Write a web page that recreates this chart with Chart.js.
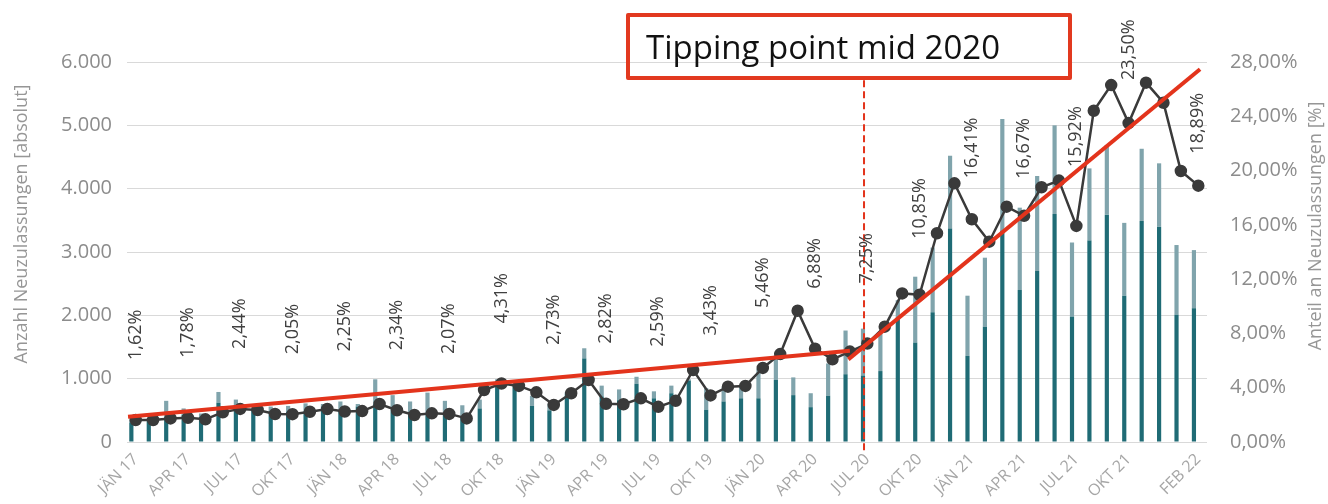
<!DOCTYPE html>
<html><head><meta charset="utf-8">
<script src="https://cdn.jsdelivr.net/npm/chart.js@4.4.1/dist/chart.umd.min.js"></script>
<style>
html,body{margin:0;padding:0;background:#fff;}
#wrap{position:relative;width:1328px;height:504px;}
#box{position:absolute;left:626px;top:13px;width:446px;height:67px;box-sizing:border-box;border:4px solid #e2391f;border-radius:2px;display:flex;align-items:center;padding-left:16px;font-family:"Open Sans";font-size:33px;color:#111;white-space:nowrap;}
</style></head><body>
<div id="wrap"><canvas id="c" width="1328" height="504"></canvas><div id="box">Tipping point mid 2020</div></div>
<script>
const months = ['JÄN 17','FEB 17','MÄR 17','APR 17','MAI 17','JUN 17','JUL 17','AUG 17','SEP 17','OKT 17','NOV 17','DEZ 17',
'JÄN 18','FEB 18','MÄR 18','APR 18','MAI 18','JUN 18','JUL 18','AUG 18','SEP 18','OKT 18','NOV 18','DEZ 18',
'JÄN 19','FEB 19','MÄR 19','APR 19','MAI 19','JUN 19','JUL 19','AUG 19','SEP 19','OKT 19','NOV 19','DEZ 19',
'JÄN 20','FEB 20','MÄR 20','APR 20','MAI 20','JUN 20','JUL 20','AUG 20','SEP 20','OKT 20','NOV 20','DEZ 20',
'JÄN 21','FEB 21','MÄR 21','APR 21','MAI 21','JUN 21','JUL 21','AUG 21','SEP 21','OKT 21','NOV 21','DEZ 21',
'JÄN 22','FEB 22'];
const tickLabels = ['JÄN 17','APR 17','JUL 17','OKT 17','JÄN 18','APR 18','JUL 18','OKT 18','JÄN 19','APR 19','JUL 19','OKT 19',
'JÄN 20','APR 20','JUL 20','OKT 20','JÄN 21','APR 21','JUL 21','OKT 21','FEB 22'];
// lower (dark) segment of the stacked bars
const darkBars = [310,330,400,430,400,620,540,500,460,480,480,560,
500,560,600,500,460,450,460,400,530,960,890,570,
500,770,1320,720,660,920,690,770,970,510,640,690,
690,980,740,550,730,1070,1050,1120,1940,1570,2050,3370,
1360,1820,3340,2400,2700,3600,1980,3180,3590,2310,3490,3400,
2010,2110];
// upper (light) segment of the stacked bars
const lightBars = [40,50,250,100,50,170,130,60,100,90,130,40,
140,40,390,240,180,330,190,180,140,30,30,160,
100,20,160,170,170,110,110,120,20,340,230,200,
470,390,280,220,510,690,740,620,300,1040,1020,1150,
950,1090,1760,1300,1500,1400,1170,1140,1100,1150,1140,1000,
1100,920];
// share of new registrations [%]
const share = [1.62,1.62,1.74,1.78,1.67,2.19,2.44,2.36,2.06,2.05,2.23,2.43,
2.25,2.28,2.80,2.34,1.99,2.11,2.07,1.74,3.83,4.31,4.13,3.66,
2.73,3.59,4.57,2.82,2.78,3.22,2.59,3.04,5.30,3.43,4.08,4.13,
5.46,6.48,9.67,6.88,6.09,6.66,7.25,8.50,10.95,10.85,15.38,19.06,
16.41,14.76,17.34,16.67,18.77,19.26,15.92,24.41,26.30,23.50,26.48,25.00,
19.97,18.89];
// trend lines (x = month index, y = %)
const trendBefore = [{x:-0.44,y:1.86},{x:41.0,y:6.73}];
const trendAfter = [{x:40.91,y:6.09},{x:61.1,y:27.46}];
const tipX = 41.81;
const tipLine = [{x:tipX,y:-0.6},{x:tipX,y:26.7}];
const leftTitle = 'Anzahl Neuzulassungen [absolut]';
const rightTitle = 'Anteil an Neuzulassungen [%]';

// label placement (px above point)
const labelLift = {'OKT 20':56,'JÄN 21':41,'APR 21':37,'JUL 21':59,'OKT 21':43,'FEB 22':32};

const RED = '#e3341c';
const fmtPct = v => v.toFixed(2).replace('.',',') + '%';
const fmtInt = v => String(v).replace(/\B(?=(\d{3})+(?!\d))/g,'.');

const overlay = {
  id:'overlay',
  afterDatasetsDraw(chart){
    const ctx = chart.ctx;
    const meta = chart.getDatasetMeta(2);
    ctx.save();
    ctx.font = '18px "Open Sans"';
    ctx.fillStyle = '#404040';
    ctx.textAlign = 'left';
    ctx.textBaseline = 'middle';
    months.forEach((m,i)=>{
      if(!tickLabels.includes(m)) return;
      const p = meta.data[i];
      const lift = labelLift[m] ?? 60;
      ctx.save();
      ctx.translate(p.x, p.y - lift);
      ctx.rotate(-Math.PI/2);
      ctx.fillText(fmtPct(share[i]),0,0);
      ctx.restore();
    });
    ctx.font = '18px "Open Sans"';
    ctx.fillStyle = '#969696';
    ctx.textAlign = 'center';
    ctx.save(); ctx.translate(22,224); ctx.rotate(-Math.PI/2); ctx.fillText(leftTitle,0,0); ctx.restore();
    ctx.save(); ctx.translate(1316,226); ctx.rotate(-Math.PI/2); ctx.fillText(rightTitle,0,0); ctx.restore();
    ctx.restore();
  }
};

new Chart(document.getElementById('c'),{
  data:{
    labels: months,
    datasets:[
      {type:'bar', data:darkBars, backgroundColor:'#1f6b75', xAxisID:'x', yAxisID:'y', stack:'s', order:3, barPercentage:0.48, categoryPercentage:1},
      {type:'bar', data:lightBars, backgroundColor:'#80a4ac', xAxisID:'x', yAxisID:'y', stack:'s', order:3, barPercentage:0.48, categoryPercentage:1},
      {type:'line', data:share, xAxisID:'x', yAxisID:'yPct', borderColor:'#3a3a3a', borderWidth:2.5, pointRadius:5, pointBackgroundColor:'#3a3a3a', pointBorderColor:'#3a3a3a', order:2, tension:0},
      {type:'line', data:trendBefore, xAxisID:'x2', yAxisID:'yPct', borderColor:RED, borderWidth:4, pointRadius:0, order:1, borderCapStyle:'butt', clip:false},
      {type:'line', data:trendAfter, xAxisID:'x2', yAxisID:'yPct', borderColor:RED, borderWidth:4, pointRadius:0, order:1, borderCapStyle:'butt', clip:false},
      {type:'line', data:tipLine, xAxisID:'x2', yAxisID:'yPct', borderColor:RED, borderWidth:2, borderDash:[7,4], pointRadius:0, order:0, clip:false}
    ]
  },
  options:{
    responsive:false, animation:false, devicePixelRatio:1,
    layout:{padding:{top:62,left:0,right:0,bottom:0}},
    plugins:{legend:{display:false}, tooltip:{enabled:false}},
    scales:{
      x:{type:'category', stacked:true, offset:true, grid:{display:false}, border:{display:false},
        ticks:{autoSkip:false, maxRotation:45, minRotation:45, color:'#a6a6a6', font:{family:'Open Sans',size:16}, padding:0,
          callback(v,i){ const l = months[i]; return tickLabels.includes(l) ? l : ''; }},
        afterFit(s){ s.height = 62; }},
      x2:{type:'linear', display:false, min:-0.5, max:61.5},
      y:{position:'left', stacked:true, min:0, max:6000,
        ticks:{stepSize:1000, color:'#8c8c8c', font:{family:'Open Sans',size:20}, padding:15, callback:v=>fmtInt(v)},
        grid:{color:'#d9d9d9', drawTicks:false}, border:{display:false},
        afterFit(s){ s.width = 127; }},
      yPct:{position:'right', min:0, max:28,
        ticks:{stepSize:4, color:'#8c8c8c', font:{family:'Open Sans',size:20}, padding:15, callback:v=>fmtPct(v)},
        grid:{display:false}, border:{display:false},
        afterFit(s){ s.width = 121; }}
    }
  },
  plugins:[overlay]
});
</script>
</body></html>
